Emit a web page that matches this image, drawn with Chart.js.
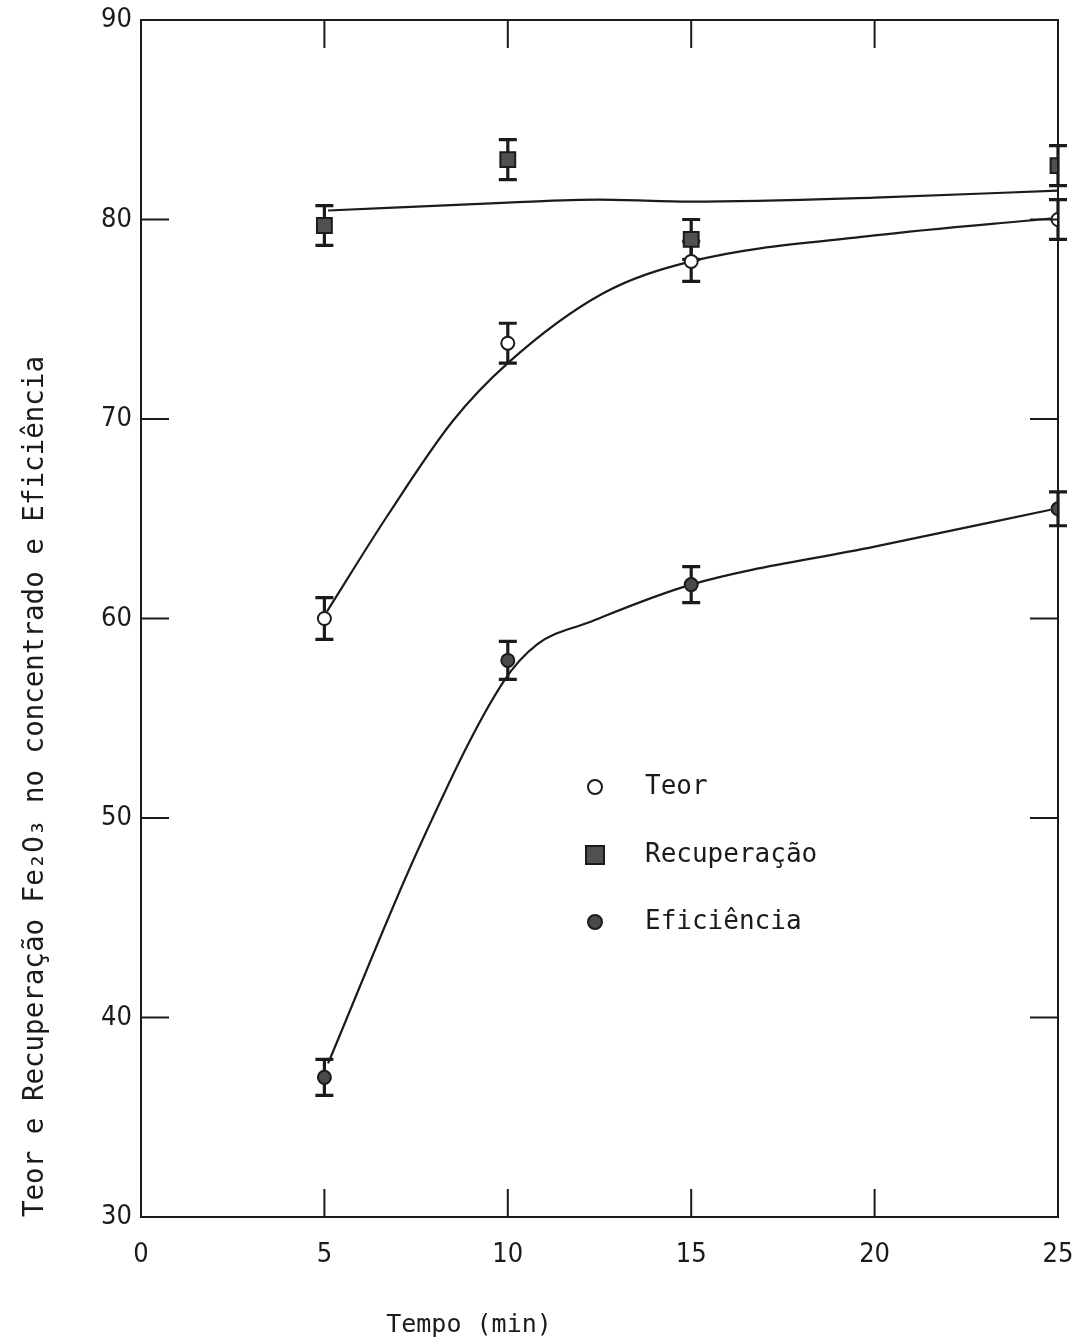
<!DOCTYPE html>
<html>
<head>
<meta charset="utf-8">
<script src="https://cdn.jsdelivr.net/npm/chart.js@4.4.1/dist/chart.umd.min.js"></script>
<style>
  body { margin: 0; background: #fff; }
  canvas { display: block; }
</style>
</head>
<body>
<canvas id="grafico" width="1073" height="1342"></canvas>
<script>
// pontos medidos (tempo em min)
const tempo = [5, 10, 15, 25];
const teor = [60.0, 73.8, 77.9, 80.0];
const recuperacao = [79.7, 83.0, 79.0, 82.7];
const eficiencia = [37.0, 57.9, 61.7, 65.5];
const erroTeor = [1.05, 1.0, 1.0, 1.0];
const erroRecuperacao = [1.0, 1.0, 1.0, 1.0];
const erroEficiencia = [0.9, 0.95, 0.9, 0.85];

// curvas ajustadas, lidas ponto a ponto
const curvaTeorX = [5.07, 6.7, 8.5, 10, 12.6, 15, 20, 24.8];
const curvaTeorY = [60.35, 65.1, 69.9, 72.8, 76.3, 77.9, 79.2, 80.05];
const curvaRecX = [5.1, 10, 12.5, 15, 20, 25];
const curvaRecY = [80.45, 80.85, 81.0, 80.9, 81.1, 81.45];
const curvaEfX = [5.1, 7.6, 9.87, 10.8, 12.2, 15, 20, 24.8];
const curvaEfY = [37.7, 48.6, 56.8, 58.7, 59.8, 61.7, 63.6, 65.45];

const ticksX = [0, 5, 10, 15, 20, 25];
const ticksY = [30, 40, 50, 60, 70, 80, 90];

const tinta = '#1b1b1b';
const fonteMono = '"DejaVu Sans Mono", "Liberation Mono", monospace';
const fonteNum = '"DejaVu Sans Condensed", "DejaVu Sans", sans-serif';

const pares = (xs, ys) => xs.map((v, i) => ({x: v, y: ys[i]}));

function pontos(label, valores, erro, estilo, raio, cor) {
  return {
    type: 'scatter', label, data: pares(tempo, valores), erro,
    pointStyle: estilo, pointRadius: raio, pointBackgroundColor: cor,
    pointBorderColor: tinta, pointBorderWidth: 2, showLine: false
  };
}
function curva(xs, ys) {
  return {
    type: 'line', data: pares(xs, ys), borderColor: tinta, borderWidth: 2.2,
    pointRadius: 0, cubicInterpolationMode: 'monotone', fill: false
  };
}

const barrasErro = {
  id: 'barrasErro',
  beforeDatasetsDraw(chart) {
    const {ctx, scales: {x, y}} = chart;
    ctx.save();
    ctx.strokeStyle = tinta;
    ctx.lineWidth = 3.2;
    chart.data.datasets.forEach(ds => {
      if (!ds.erro) return;
      ds.data.forEach((p, j) => {
        const px = x.getPixelForValue(p.x);
        const cima = y.getPixelForValue(p.y + ds.erro[j]);
        const baixo = y.getPixelForValue(p.y - ds.erro[j]);
        ctx.beginPath();
        ctx.moveTo(px, cima); ctx.lineTo(px, baixo);
        ctx.moveTo(px - 9, cima); ctx.lineTo(px + 9, cima);
        ctx.moveTo(px - 9, baixo); ctx.lineTo(px + 9, baixo);
        ctx.stroke();
      });
    });
    ctx.restore();
  }
};

// moldura com marcas voltadas para dentro nos quatro lados
const moldura = {
  id: 'moldura',
  afterDraw(chart) {
    const {ctx, chartArea: a, scales: {x, y}} = chart;
    const L = 28;
    ctx.save();
    ctx.strokeStyle = tinta;
    ctx.lineWidth = 2;
    ctx.strokeRect(a.left, a.top, a.right - a.left, a.bottom - a.top);
    ctx.beginPath();
    x.ticks.forEach(t => {
      if (t.value <= x.min || t.value >= x.max) return;
      const px = x.getPixelForValue(t.value);
      ctx.moveTo(px, a.top); ctx.lineTo(px, a.top + L);
      ctx.moveTo(px, a.bottom); ctx.lineTo(px, a.bottom - L);
    });
    y.ticks.forEach(t => {
      if (t.value <= y.min || t.value >= y.max) return;
      const py = y.getPixelForValue(t.value);
      ctx.moveTo(a.left, py); ctx.lineTo(a.left + L, py);
      ctx.moveTo(a.right, py); ctx.lineTo(a.right - L, py);
    });
    ctx.stroke();

    // titulo do eixo x
    ctx.fillStyle = tinta;
    ctx.font = '25px ' + fonteMono;
    ctx.textAlign = 'center';
    ctx.textBaseline = 'middle';
    ctx.fillText('Tempo (min)', a.left + 328, 1325);
    ctx.restore();
  }
};

// legenda dentro da area do grafico
const legenda = {
  id: 'legenda',
  afterDraw(chart) {
    const {ctx, chartArea: a} = chart;
    const mx = a.left + 454, tx = a.left + 504;
    const linhas = [a.top + 767, a.top + 835, a.top + 902];
    ctx.save();
    ctx.font = '26px ' + fonteMono;
    ctx.textBaseline = 'middle';
    ctx.textAlign = 'left';
    chart.data.datasets.filter(ds => ds.erro).forEach((ds, i) => {
      const cy = linhas[i];
      ctx.fillStyle = ds.pointBackgroundColor;
      ctx.strokeStyle = tinta;
      ctx.lineWidth = 2;
      ctx.beginPath();
      if (ds.pointStyle === 'rect') ctx.rect(mx - 9, cy - 9, 18, 18);
      else ctx.arc(mx, cy, 7, 0, Math.PI * 2);
      ctx.fill(); ctx.stroke();
      ctx.fillStyle = tinta;
      ctx.fillText(ds.label, tx, cy);
    });
    ctx.restore();
  }
};

new Chart(document.getElementById('grafico'), {
  data: {
    datasets: [
      pontos('Teor', teor, erroTeor, 'circle', 6.5, '#ffffff'),
      pontos('Recuperação', recuperacao, erroRecuperacao, 'rect', 10.5, '#505050'),
      pontos('Eficiência', eficiencia, erroEficiencia, 'circle', 6.5, '#4a4a4a'),
      curva(curvaTeorX, curvaTeorY),
      curva(curvaRecX, curvaRecY),
      curva(curvaEfX, curvaEfY)
    ]
  },
  options: {
    responsive: false,
    animation: false,
    layout: {padding: {left: 0, right: 15, top: 20, bottom: 0}},
    plugins: {legend: {display: false}, tooltip: {enabled: false}},
    scales: {
      x: {
        type: 'linear', min: 0, max: 25,
        afterBuildTicks: s => { s.ticks = ticksX.map(v => ({value: v})); },
        afterFit: s => { s.height = 125; s.paddingLeft = 0; s.paddingRight = 0; },
        grid: {display: false, drawTicks: false},
        border: {display: false},
        ticks: {color: tinta, padding: 22, font: {family: fonteNum, size: 27}}
      },
      y: {
        type: 'linear', min: 30, max: 90,
        afterBuildTicks: s => { s.ticks = ticksY.map(v => ({value: v})); },
        afterFit: s => { s.width = 141; s.paddingTop = 0; s.paddingBottom = 0; },
        grid: {display: false, drawTicks: false},
        border: {display: false},
        ticks: {color: tinta, padding: 9, font: {family: fonteNum, size: 27}},
        title: {
          display: true, align: 'start', color: tinta,
          text: 'Teor e Recuperação Fe₂O₃ no concentrado e Eficiência',
          font: {family: fonteMono, size: 27.5, lineHeight: 1.2},
          padding: {top: 19, bottom: 0}
        }
      }
    }
  },
  plugins: [barrasErro, moldura, legenda]
});
</script>
</body>
</html>
